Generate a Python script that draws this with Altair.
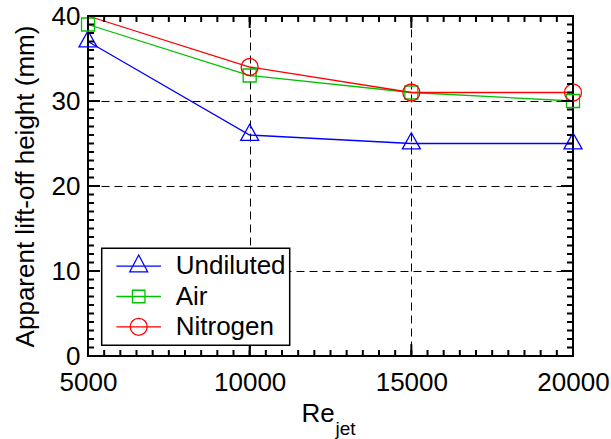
import altair as alt
import pandas as pd

# ---- data ----
re_jet = [5000, 10000, 15000, 20000]
undiluted = [37, 26, 25, 25]
air = [39, 33, 31, 30]
nitrogen = [40, 34, 31, 31]
series_names = ["Undiluted", "Air", "Nitrogen"]
series_colors = ["#0000ff", "#00c000", "#ff0000"]

# axis tick positions
x_major = [5000, 10000, 15000, 20000]
x_minor = list(range(5000, 20001, 500))
y_major = [0, 10, 20, 30, 40]
y_minor = list(range(0, 41))

rows = []
for name, vals in zip(series_names, [undiluted, air, nitrogen]):
    for x, v in zip(re_jet, vals):
        rows.append({"re": x, "height": v, "series": name})
df = pd.DataFrame(rows)

FONT = "Liberation Sans"
W, H = 485, 340
MINOR, MAJOR, TW = 6, 12, 2

xscale = alt.Scale(domain=[5000, 20000], nice=False, zero=False)
yscale = alt.Scale(domain=[0, 40], nice=False)

legend_paths = [
    "M-1,0H1M0,-0.5L-0.4,0.25L0.4,0.25Z",
    "M-1,0H1M-0.28,-0.28H0.28V0.28H-0.28Z",
    "M-1,0H1M0.38,0A0.38,0.38,0,1,1,-0.38,0A0.38,0.38,0,1,1,0.38,0Z",
]
marker_shapes = ["M0,-1.19L-1,0.59L1,0.59Z", "square", "circle"]
marker_sizes = [324, 169, 289]

leg = alt.Legend(title=None, symbolOpacity=1, symbolStrokeWidth=1.3,
                 symbolSize=1998, labelExpr="datum.label + '   '")
color = alt.Color("series:N", scale=alt.Scale(domain=series_names, range=series_colors),
                  legend=leg)

main_x_axis = alt.Axis(
    orient="bottom", values=x_major, format="d", grid=True, gridColor="black",
    gridDash=[8, 5], gridWidth=1, gridOpacity=1, ticks=False, tickSize=0, domain=False,
    labelFont=FONT, labelFontSize=26, labelPadding=13, labelColor="black",
    labelFlush=False, labelOverlap=False,
    title="Re", titleFont=FONT, titleFontSize=26, titleFontWeight="normal",
    titleColor="black", titleAlign="left", titleBaseline="alphabetic",
    titleX=213, titleY=65,
)
main_y_axis = alt.Axis(
    orient="left", values=y_major, format="d", grid=True, gridColor="black",
    gridDash=[8, 5], gridWidth=1, gridOpacity=1, ticks=False, tickSize=0, domain=False,
    labelFont=FONT, labelFontSize=26, labelPadding=8, labelColor="black",
    labelFlush=False, labelOverlap=False,
    title="Apparent lift-off height (mm)", titleFont=FONT, titleFontSize=26,
    titleFontWeight="normal", titleColor="black", titleAngle=270,
    titleAlign="center", titleBaseline="alphabetic", titleX=-54.7, titleY=H / 2,
)
sub_x_axis = alt.Axis(
    orient="bottom", values=x_major, labels=False, ticks=False, domain=False, grid=False,
    title="jet", titleFont=FONT, titleFontSize=19, titleFontWeight="normal",
    titleColor="black", titleAlign="left", titleBaseline="alphabetic",
    titleX=247, titleY=78,
)

base = alt.Chart(df)

# inside tick marks on all four sides, from the tick-position lists
xmin_df = pd.DataFrame({"tx": x_minor})
xmaj_df = pd.DataFrame({"tx": x_major})
ymin_df = pd.DataFrame({"ty": y_minor})
ymaj_df = pd.DataFrame({"ty": y_major})


def xticks(data, center, length):
    return alt.Chart(data).mark_tick(color="black", thickness=TW, size=length,
                                     opacity=1, orient="vertical").encode(
        x=alt.X("tx:Q", scale=xscale, axis=None), y=alt.value(center))


def yticks(data, x0, x1):
    return alt.Chart(data).mark_rule(color="black", strokeWidth=TW).encode(
        y=alt.Y("ty:Q", scale=yscale, axis=None), x=alt.value(x0), x2=alt.value(x1))


tick_layers = [
    xticks(xmin_df, H - MINOR / 2, MINOR), xticks(xmin_df, MINOR / 2, MINOR),
    xticks(xmaj_df, H - MAJOR / 2, MAJOR), xticks(xmaj_df, MAJOR / 2, MAJOR),
    yticks(ymin_df, 0, MINOR), yticks(ymin_df, W, W - MINOR),
    yticks(ymaj_df, 0, MAJOR), yticks(ymaj_df, W, W - MAJOR),
]

lines = base.mark_line(strokeWidth=1.3).encode(
    x=alt.X("re:Q", scale=xscale, axis=main_x_axis),
    y=alt.Y("height:Q", scale=yscale, axis=main_y_axis),
    color=color,
    detail="series:N",
)

carrier = base.mark_point(opacity=0, filled=False).encode(
    x=alt.X("re:Q", scale=xscale, axis=sub_x_axis),
    y=alt.Y("height:Q", scale=yscale, axis=None),
    color=color,
    shape=alt.Shape("series:N", scale=alt.Scale(domain=series_names, range=legend_paths),
                    legend=leg),
)

point_layers = []
for i, name in enumerate(series_names):
    p = (
        base.transform_filter(alt.datum.series == name)
        .transform_filter(alt.datum.height < 40)
        .mark_point(shape=marker_shapes[i], size=marker_sizes[i], filled=False,
                    strokeWidth=1.3, opacity=1)
        .encode(
            x=alt.X("re:Q", scale=xscale, axis=None),
            y=alt.Y("height:Q", scale=yscale, axis=None),
            color=color,
        )
    )
    point_layers.append(p)

chart = (
    alt.layer(lines, carrier, *point_layers, *tick_layers)
    .resolve_axis(x="independent", y="independent")
    .properties(
        width=W, height=H,
        autosize=alt.AutoSizeParams(type="none"),
        padding={"left": 88, "top": 16, "right": 38, "bottom": 83},
        background="white",
    )
    .configure_view(stroke="black", strokeWidth=2)
    .configure_legend(
        orient="none", legendX=13.7, legendY=232.2, fillColor="white",
        strokeColor="black", strokeWidth=1.5, padding=4, symbolOffset=10,
        labelFont=FONT, labelFontSize=26, labelColor="black", labelOffset=14,
        rowPadding=2.3, clipHeight=28, cornerRadius=0, labelLimit=400,
    )
)

chart.save("out.html", embed_options={"renderer": "svg", "actions": False})
